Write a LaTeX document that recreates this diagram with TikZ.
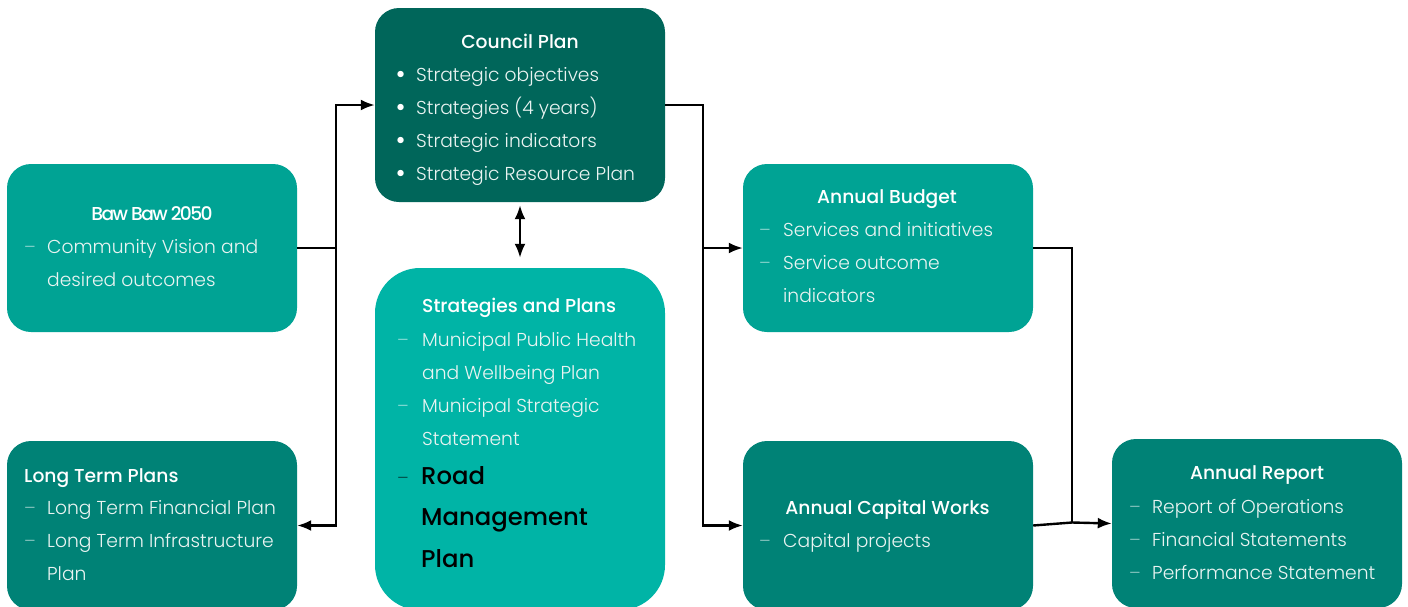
\documentclass[tikz,border=0pt]{standalone}
\usepackage{fontspec}
\setmainfont{Poppins}[UprightFont=* Light, BoldFont=* Medium]
\usetikzlibrary{arrows.meta}
\definecolor{cdark}{HTML}{00665A}
\definecolor{cmid}{HTML}{00A394}
\definecolor{clight}{HTML}{00B4A6}
\definecolor{cteal}{HTML}{008276}
\definecolor{ctext}{HTML}{EAF4F2}
\begin{document}
\begin{tikzpicture}[x=1pt,y=-1pt,
  box/.style={rounded corners=24pt, draw=none, inner sep=0pt, minimum width=290pt},
  ttl/.style={anchor=base, inner sep=0pt, text=white, font=\fontsize{18.7}{18.7}\selectfont\bfseries},
  ttlw/.style={ttl, anchor=base west},
  item/.style={anchor=base west, inner sep=0pt, text=ctext, font=\fontsize{18.7}{18.7}\selectfont},
  bul/.style={anchor=base west, inner sep=0pt, text=white, font=\fontsize{24}{24}\selectfont\bfseries},
  dsh/.style={anchor=base west, inner sep=0pt, text=white, opacity=0.55, font=\fontsize{18}{18}\selectfont},
  big/.style={anchor=base west, inner sep=0pt, text=black, font=\fontsize{24.3}{24.3}\selectfont\bfseries},
  ln/.style={line width=2.4pt},
  arr/.style={ln, -{Latex[length=14pt,width=11pt]}},
  darr/.style={ln, {Latex[length=14pt,width=11pt]}-{Latex[length=14pt,width=11pt]}},
]
\useasboundingbox (0,0) rectangle (1408,606);
\clip (0,0) rectangle (1408,606);

% boxes
\node[box, fill=cdark, minimum height=194pt] (cp) at (520,105) {};
\node[box, fill=cmid, minimum height=168pt] (bb) at (152,248) {};
\node[box, fill=clight, rounded corners=45pt, minimum height=342pt] (sp) at (520,439) {};
\node[box, fill=cmid, minimum height=168pt] (ab) at (888,248) {};
\node[box, fill=cteal, minimum height=169pt] (lt) at (152,525.5) {};
\node[box, fill=cteal, minimum height=169pt] (cw) at (888,525.5) {};
\node[box, fill=cteal, minimum height=169pt] (ar) at (1257,523.5) {};

% Council Plan
\node[ttl] (cpt) at (520,48) {Council Plan};
\foreach \y/\t [count=\i] in {81/Strategic objectives,114/Strategies (4 years),147/Strategic indicators,180/Strategic Resource Plan}{
  \node[bul] (cpb\i) at (395,\y+1) {•};
  \node[item] (cpi\i) at (416,\y) {\t};
}

% Baw Baw 2050
\node[ttl, font=\fontsize{18.7}{18.7}\selectfont\bfseries\addfontfeature{LetterSpace=-9}] (bbt) at (152,220) {Baw Baw 2050};
\node[dsh] (bbd1) at (24,253) {–};
\node[item] (bbi1) at (47,253) {Community Vision and};
\node[item] (bbi2) at (47,286) {desired outcomes};

% Long Term Plans
\node[ttlw] (ltt) at (24,482) {Long Term Plans};
\node[dsh] (ltd1) at (24,514) {–};
\node[item] (lti1) at (47,514) {Long Term Financial Plan};
\node[dsh] (ltd2) at (24,547) {–};
\node[item] (lti2) at (47,547) {Long Term Infrastructure};
\node[item] (lti3) at (47,580) {Plan};

% Strategies and Plans
\node[ttlw] (spt) at (422,312) {Strategies and Plans};
\node[dsh] (spd1) at (397,346) {–};
\node[item] (spi1) at (422,346) {Municipal Public Health};
\node[item] (spi2) at (422,379) {and Wellbeing Plan};
\node[dsh] (spd2) at (397,412) {–};
\node[item] (spi3) at (422,412) {Municipal Strategic};
\node[item] (spi4) at (422,445) {Statement};
\node[dsh, text=black, opacity=0.6] (spd3) at (397,484) {–};
\node[big] (spr1) at (421,484) {Road};
\node[big] (spr2) at (421,525) {Management};
\node[big] (spr3) at (421,567) {Plan};

% Annual Budget
\node[ttl] (abt) at (887,203) {Annual Budget};
\node[dsh] (abd1) at (759,236) {–};
\node[item] (abi1) at (783,236) {Services and initiatives};
\node[dsh] (abd2) at (759,269) {–};
\node[item] (abi2) at (783,269) {Service outcome};
\node[item] (abi3) at (783,302) {indicators};

% Annual Capital Works
\node[ttl] (cwt) at (887.5,514) {Annual Capital Works};
\node[dsh] (cwd1) at (759,547) {–};
\node[item] (cwi1) at (783,547) {Capital projects};

% Annual Report
\node[ttl] (art) at (1257,479) {Annual Report};
\node[dsh] (ard1) at (1129,513) {–};
\node[item] (ari1) at (1152,513) {Report of Operations};
\node[dsh] (ard2) at (1129,546) {–};
\node[item] (ari2) at (1152,546) {Financial Statements};
\node[dsh] (ard3) at (1129,579) {–};
\node[item] (ari3) at (1152,579) {Performance Statement};

% connectors
\coordinate (jl) at (336,300);
\coordinate (jr) at (703,300);
\coordinate (jr2) at (1072,522.5);
\draw[darr] (cp.west) -| (jl) |- (lt.east);
\draw[ln] (bb.east) -- (bb.east -| jl);
\draw[arr] (cp.east) -| (jr) |- (cw.west);
\draw[arr] (ab.west -| jr) -- (ab.west);
\draw[ln] (ab.east) -| (jr2);
\draw[arr] (cw.east) -- (jr2) -- (ar.west);
\draw[darr, shorten <=3pt, shorten >=10pt] (cp.south) -- (sp.north);
\end{tikzpicture}
\end{document}
